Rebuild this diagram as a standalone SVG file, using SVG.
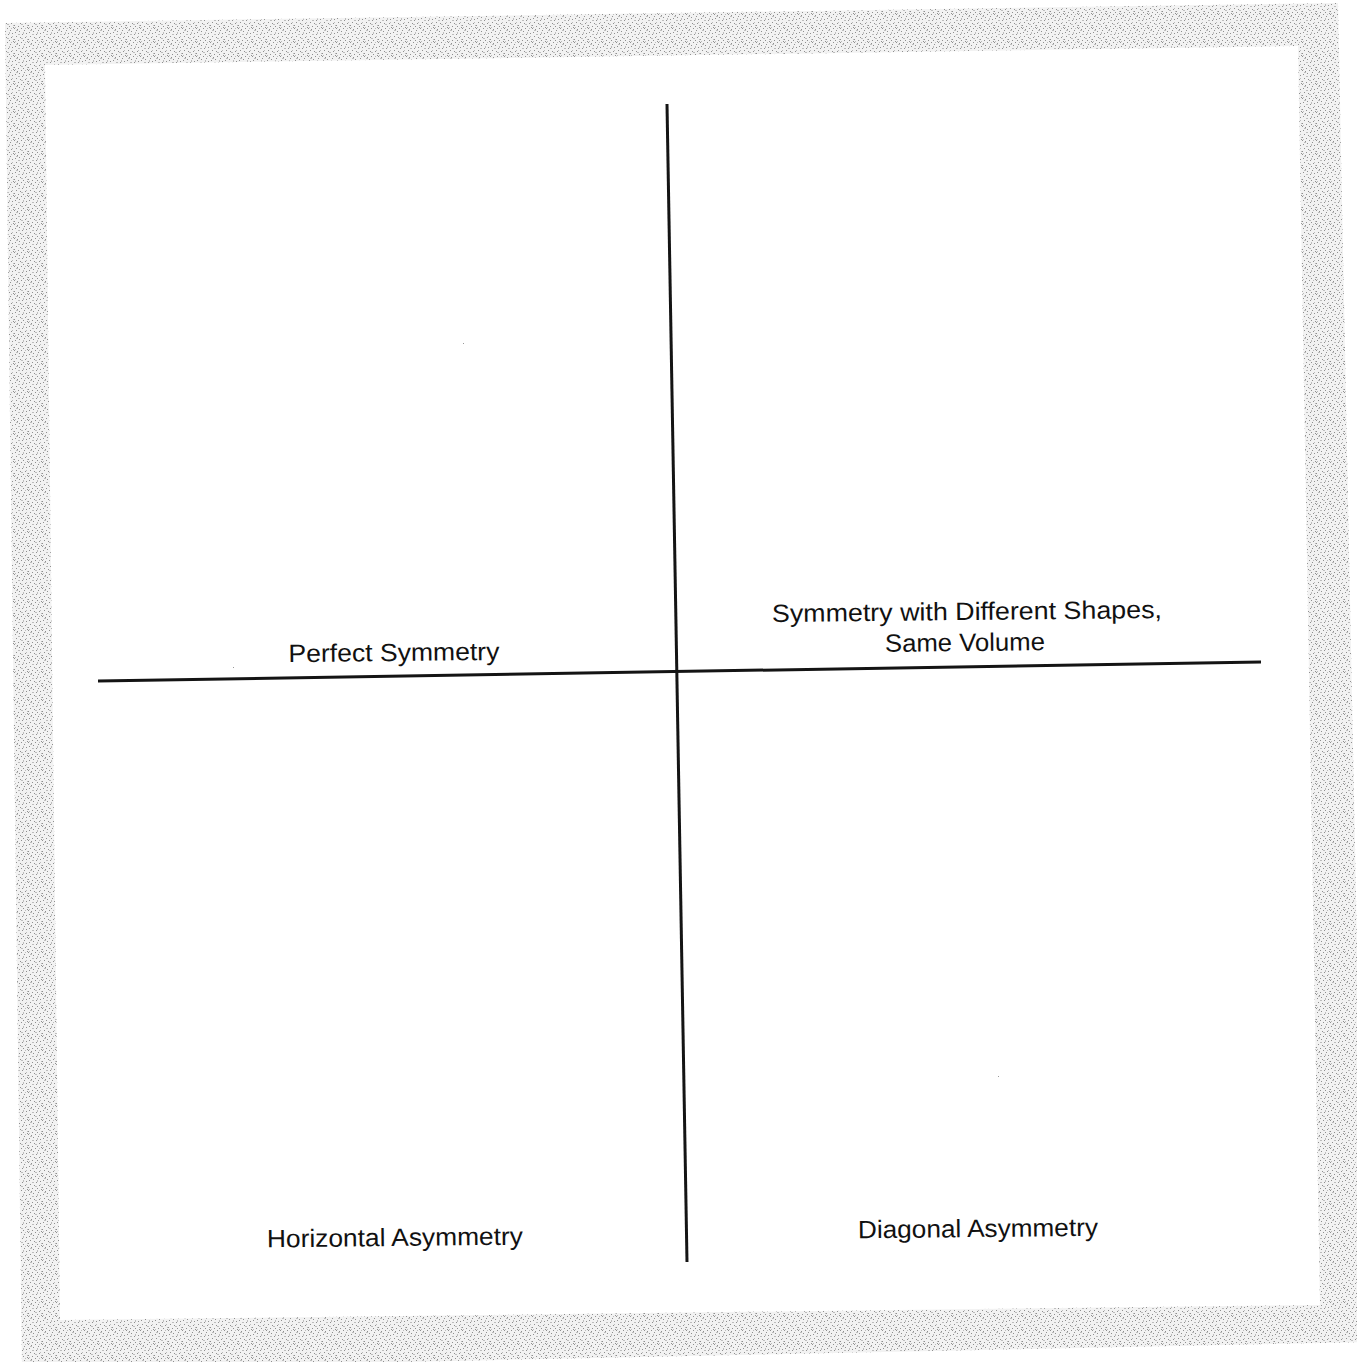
<svg xmlns="http://www.w3.org/2000/svg" width="1357" height="1362" viewBox="0 0 1357 1362">
  <defs>
    <pattern id="speckle" width="14" height="14" patternUnits="userSpaceOnUse">
      <rect width="14" height="14" fill="#f2f2f2"/>
      <g fill="#8f8f8f">
        <rect x="0" y="0" width="1" height="1"/><rect x="3" y="1" width="1" height="1"/><rect x="7" y="0" width="1" height="1"/>
        <rect x="10" y="2" width="1" height="1"/><rect x="1" y="4" width="1" height="1"/><rect x="5" y="3" width="1" height="1"/>
        <rect x="12" y="5" width="1" height="1"/><rect x="8" y="6" width="1" height="1"/><rect x="2" y="8" width="1" height="1"/>
        <rect x="6" y="9" width="1" height="1"/><rect x="11" y="9" width="1" height="1"/><rect x="0" y="11" width="1" height="1"/>
        <rect x="4" y="12" width="1" height="1"/><rect x="9" y="12" width="1" height="1"/><rect x="13" y="13" width="1" height="1"/>
      </g>
      <g fill="#bdbdbd">
        <rect x="2" y="2" width="2" height="1"/><rect x="9" y="4" width="1" height="2"/><rect x="4" y="6" width="2" height="1"/>
        <rect x="12" y="8" width="1" height="1"/><rect x="7" y="10" width="2" height="1"/><rect x="1" y="13" width="1" height="1"/>
        <rect x="11" y="0" width="1" height="1"/><rect x="13" y="11" width="1" height="1"/>
      </g>
    </pattern>
    <style>
      .lbl { font-family: "Liberation Sans", Arial, sans-serif; font-size: 25px; fill: #111; text-anchor: middle; }
      .axis { stroke: #141414; fill: none; }
    </style>
  </defs>

  <rect width="1357" height="1362" fill="#ffffff"/>

  <!-- scanned border frame -->
  <path d="M5,23 L1338,3 L1365,1342 L22,1370 Z M45,65 L60,1320 L1320,1305 L1298,46 Z" fill="url(#speckle)" fill-rule="evenodd"/>

  <!-- connectors / axes -->
  <g id="axes">
    <line class="axis" x1="667" y1="104" x2="687" y2="1262" stroke-width="3"/>
    <line class="axis" x1="98" y1="681" x2="1261" y2="662" stroke-width="3"/>
  </g>

  <g id="perfect-symmetry">
    <text class="lbl" x="394" y="661" textLength="211" lengthAdjust="spacingAndGlyphs" transform="rotate(-0.6 394 661)">Perfect Symmetry</text>
  </g>
  <g id="symmetry-different-shapes">
    <text class="lbl" x="967" y="620" textLength="390" lengthAdjust="spacingAndGlyphs" transform="rotate(-0.6 967 620)">Symmetry with Different Shapes,</text>
    <text class="lbl" x="965" y="651" textLength="160" lengthAdjust="spacingAndGlyphs" transform="rotate(-0.6 965 651)">Same Volume</text>
  </g>
  <g id="horizontal-asymmetry">
    <text class="lbl" x="395" y="1246" textLength="256" lengthAdjust="spacingAndGlyphs" transform="rotate(-0.6 395 1246)">Horizontal Asymmetry</text>
  </g>
  <g id="diagonal-asymmetry">
    <text class="lbl" x="978" y="1237" textLength="240" lengthAdjust="spacingAndGlyphs" transform="rotate(-0.6 978 1237)">Diagonal Asymmetry</text>
  </g>

  <g fill="#999">
    <rect x="463" y="343" width="1" height="1"/>
    <rect x="998" y="1076" width="1" height="1"/>
    <rect x="233" y="667" width="1" height="1"/>
  </g>
</svg>
